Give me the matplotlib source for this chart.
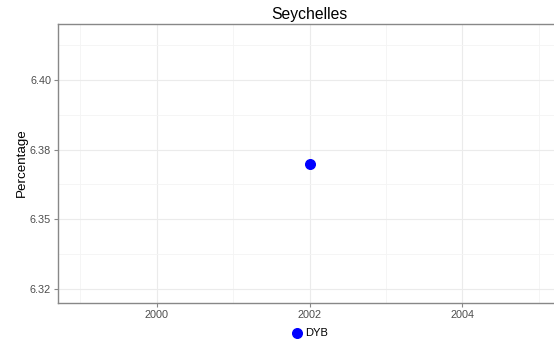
import matplotlib.pyplot as plt
from matplotlib.ticker import FixedLocator, FuncFormatter

plt.rcParams["font.family"] = ["Liberation Sans", "DejaVu Sans"]

# data
years = [2002]
values = [6.37]
series = "DYB"
country = "Seychelles"

fig = plt.figure(figsize=(5.54, 3.46), dpi=100)
ax = fig.add_axes([58/554, 43/346, 503/554, 279/346])

ax.scatter(years, values, s=48, color="#0000FF", zorder=3, label=series)

ax.set_xlim(1998.71, 2005.29)
ax.set_ylim(6.32, 6.42)

ax.xaxis.set_major_locator(FixedLocator([2000, 2002, 2004]))
ax.xaxis.set_minor_locator(FixedLocator([1999, 2001, 2003, 2005]))
ax.yaxis.set_major_locator(FixedLocator([6.325, 6.35, 6.375, 6.40]))
ax.yaxis.set_minor_locator(FixedLocator([6.3375, 6.3625, 6.3875, 6.4125]))
labs = {6.325: "6.32", 6.35: "6.35", 6.375: "6.38", 6.40: "6.40"}
ax.yaxis.set_major_formatter(FuncFormatter(lambda v, p: labs.get(round(v, 3), f"{v:.2f}")))

ax.grid(which="major", color="#EBEBEB", lw=0.8)
ax.grid(which="minor", color="#F4F4F4", lw=0.6)
ax.set_axisbelow(True)

for s in ax.spines.values():
    s.set_color("#888888")
    s.set_linewidth(1.0)
ax.spines["right"].set_visible(False)

ax.tick_params(which="major", length=3, color="#888888", labelsize=7.8, labelcolor="#4D4D4D", pad=2)
ax.tick_params(which="minor", length=0)

fig.text(22/554, 1 - 163/346, "Percentage", rotation=90, ha="center", va="center", fontsize=9.6)
fig.text(309/554, 1 - 14/346, country, ha="center", va="center", fontsize=11.3)

ax.legend(loc="center", bbox_to_anchor=((310 - 58)/503, -30/279), frameon=False,
          fontsize=8, handlelength=1.0, handletextpad=0.2, markerscale=1.0, borderaxespad=0,
          borderpad=0)

fig.savefig("out.png", dpi=100)
